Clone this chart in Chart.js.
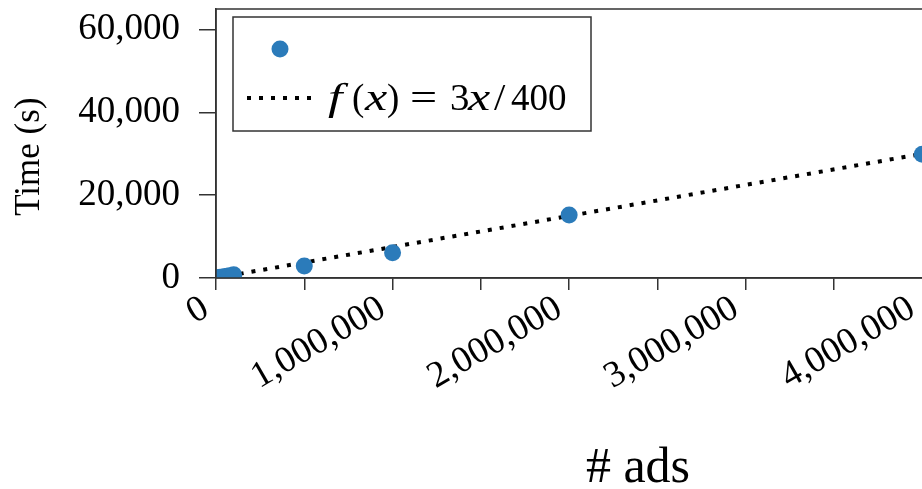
<!DOCTYPE html>
<html>
<head>
<meta charset="utf-8">
<script src="https://cdn.jsdelivr.net/npm/chart.js@4.4.1/dist/chart.umd.min.js"></script>
<style>
html, body { margin: 0; padding: 0; background: #fff; overflow: hidden; }
#wrap { width: 1070px; height: 489px; }
</style>
</head>
<body>
<div id="wrap"><canvas id="myChart" width="1070" height="489"></canvas></div>
<script>
// measured runs: # ads vs time in seconds
const adsCount = [1000, 10000, 25000, 50000, 75000, 100000, 500000, 1000000, 2000000, 4000000];
const timeSec = [10, 80, 200, 380, 560, 760, 2900, 6100, 15200, 29900];

// f(x) = 3x/400, two end points
const fitX = [0, 4780000];
const fitY = [0, 35850];

const xTickValues = [0, 500000, 1000000, 1500000, 2000000, 2500000, 3000000, 3500000, 4000000, 4500000];
const xTickLabels = [0, 1000000, 2000000, 3000000, 4000000];
const yTickValues = [0, 20000, 40000, 60000];

const blue = '#2b7bba';
const axisColor = '#333';
const serif = "'Liberation Serif', 'DejaVu Serif', serif";

Chart.defaults.font.family = serif;
Chart.defaults.color = '#000';

const fmt = v => v.toLocaleString('en-US');

// frame round the plot area
const framePlugin = {
    id: 'frame',
    afterDraw(chart) {
        const a = chart.chartArea;
        const c = chart.ctx;
        c.save();
        c.strokeStyle = axisColor;
        c.lineWidth = 1.5;
        c.strokeRect(a.left, a.top, a.right - a.left, a.bottom - a.top);
        c.restore();
    }
};

// legend box drawn inside the plot, like the original
const legendBox = {
    id: 'legendBox',
    afterDraw(chart) {
        const c = chart.ctx;
        const ds = chart.data.datasets;
        c.save();
        c.fillStyle = '#fff';
        c.fillRect(233, 17, 358, 114);
        c.strokeStyle = axisColor;
        c.lineWidth = 1.5;
        c.strokeRect(233, 17, 358, 114);

        // row 1: scatter marker (no label)
        c.fillStyle = ds[0].backgroundColor;
        c.beginPath();
        c.arc(280, 49, ds[0].pointRadius, 0, Math.PI * 2);
        c.fill();

        // row 2: dotted line + f(x) = 3x/400
        c.strokeStyle = ds[1].borderColor;
        c.lineWidth = ds[1].borderWidth;
        c.setLineDash(ds[1].borderDash);
        c.beginPath();
        c.moveTo(247, 98);
        c.lineTo(315, 98);
        c.stroke();
        c.setLineDash([]);

        // math-style label, each piece placed like the typeset original
        // [text, style, x, horizontal stretch]
        const parts = [
            ['f', 'italic', 328, 1.4], ['(', 'normal', 352, 1], ['x', 'italic', 365, 1.35], [')', 'normal', 387, 1],
            ['=', 'normal', 410, 1.3], ['3', 'normal', 450, 1.05], ['x', 'italic', 468, 1.35], ['/', 'normal', 494, 1.1],
            ['400', 'normal', 511, 1.0]
        ];
        c.fillStyle = '#000';
        c.textBaseline = 'alphabetic';
        parts.forEach(([t, st, x, sx]) => {
            c.font = st + ' 37px ' + serif;
            c.save();
            c.translate(x, 110);
            c.scale(sx, 1);
            c.fillText(t, 0, 0);
            c.restore();
        });
        c.restore();
    }
};

const ctx = document.getElementById('myChart').getContext('2d');

const myChart = new Chart(ctx, {
    type: 'scatter',
    data: {
        datasets: [{
            label: '',
            data: adsCount.map((v, i) => ({ x: v, y: timeSec[i] })),
            backgroundColor: blue,
            borderWidth: 0,
            pointRadius: 8.5,
            pointHoverRadius: 8.5,
            order: 0
        }, {
            type: 'line',
            label: 'f(x) = 3x/400',
            data: fitX.map((v, i) => ({ x: v, y: fitY[i] })),
            borderColor: '#000',
            borderWidth: 4,
            borderDash: [4, 8],
            borderCapStyle: 'butt',
            pointRadius: 0,
            fill: false,
            order: 1
        }]
    },
    options: {
        responsive: false,
        devicePixelRatio: 1,
        animation: false,
        layout: { padding: { left: 0, top: 9, right: 10, bottom: 0 } },
        plugins: {
            legend: { display: false },
            tooltip: { enabled: false }
        },
        scales: {
            x: {
                type: 'linear',
                min: 0,
                max: 4780000,
                afterBuildTicks: s => { s.ticks = xTickValues.map(v => ({ value: v })); },
                afterFit: s => { s.height = 211; s.paddingLeft = 0; s.paddingRight = 0; },
                border: { color: axisColor, width: 1.5 },
                grid: { drawOnChartArea: false, drawTicks: true, tickLength: 12, color: axisColor, lineWidth: 1.5 },
                ticks: {
                    autoSkip: false,
                    minRotation: 30,
                    maxRotation: 30,
                    padding: 0,
                    labelOffset: -10,
                    font: { size: 37, lineHeight: 1.0 },
                    callback: v => xTickLabels.includes(v) ? fmt(v) : ''
                },
                title: {
                    display: true,
                    text: '# ads',
                    font: { size: 50, lineHeight: 0.8 },
                    padding: 0
                }
            },
            y: {
                type: 'linear',
                min: 0,
                max: 65000,
                afterBuildTicks: s => { s.ticks = yTickValues.map(v => ({ value: v })); },
                afterFit: s => { s.width = 216; s.paddingTop = 0; s.paddingBottom = 0; },
                border: { color: axisColor, width: 1.5 },
                grid: { drawOnChartArea: false, drawTicks: true, tickLength: 17, color: axisColor, lineWidth: 1.5 },
                ticks: {
                    padding: 19,
                    font: { size: 37 },
                    callback: v => fmt(v)
                },
                title: {
                    display: true,
                    text: 'Time (s)   ',
                    font: { size: 35, lineHeight: 1.2 },
                    padding: { top: 9, bottom: 0 }
                }
            }
        }
    },
    plugins: [framePlugin, legendBox]
});
</script>
</body>
</html>
